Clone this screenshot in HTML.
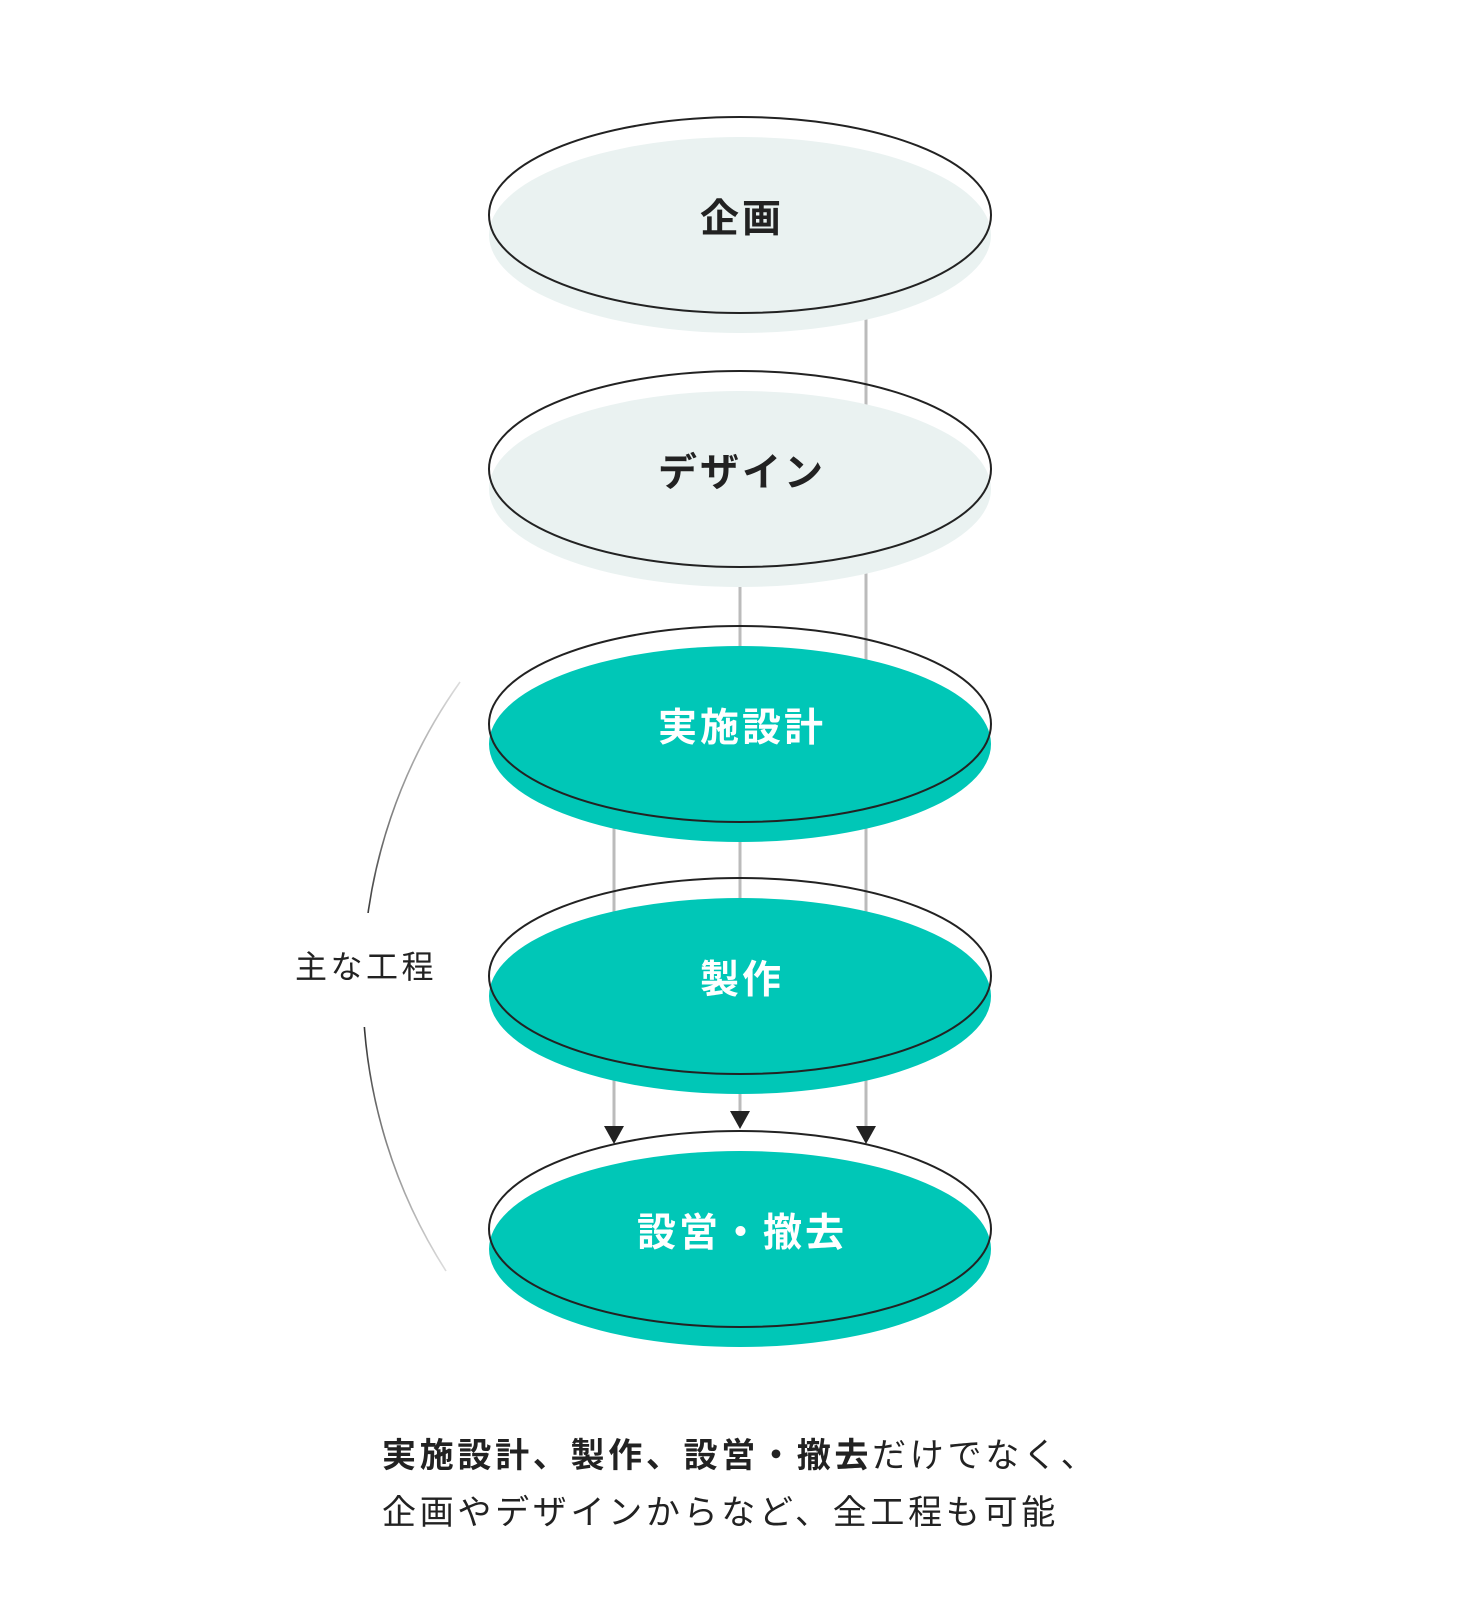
<!DOCTYPE html>
<html><head><meta charset="utf-8"><style>
html,body{margin:0;padding:0;background:#fff;}
svg{display:block}
text{font-family:"Liberation Sans","Noto Sans CJK JP",sans-serif;}
</style></head><body>
<svg width="1480" height="1620" viewBox="0 0 1480 1620" xmlns="http://www.w3.org/2000/svg">
<defs>
<linearGradient id="g" x1="0" y1="682" x2="0" y2="1271" gradientUnits="userSpaceOnUse">
<stop offset="0" stop-color="#ddd"/>
<stop offset="0.5" stop-color="#111"/>
<stop offset="1" stop-color="#ddd"/>
</linearGradient>
</defs>
<path d="M460,682 A527,527 0 0 0 446,1271" fill="none" stroke="url(#g)" stroke-width="1.6"/>
<rect x="340" y="913" width="60" height="114" fill="#fff"/>
<text x="295" y="978" font-size="32" fill="#222" letter-spacing="3.5">主な工程</text>

<g stroke="#bbb" stroke-width="3">
<line x1="866" y1="300" x2="866" y2="1128"/>
<line x1="740" y1="560" x2="740" y2="1112"/>
<line x1="614" y1="800" x2="614" y2="1128"/>
</g>

<g>
<ellipse cx="740" cy="235" rx="251" ry="98" fill="#eaf2f1"/>
<ellipse cx="740" cy="215" rx="251" ry="98" fill="none" stroke="#222" stroke-width="2"/>
<ellipse cx="740" cy="489" rx="251" ry="98" fill="#eaf2f1"/>
<ellipse cx="740" cy="469" rx="251" ry="98" fill="none" stroke="#222" stroke-width="2"/>
<ellipse cx="740" cy="744" rx="251" ry="98" fill="#00c7b7"/>
<ellipse cx="740" cy="724" rx="251" ry="98" fill="none" stroke="#222" stroke-width="2"/>
<ellipse cx="740" cy="996" rx="251" ry="98" fill="#00c7b7"/>
<ellipse cx="740" cy="976" rx="251" ry="98" fill="none" stroke="#222" stroke-width="2"/>
<ellipse cx="740" cy="1249" rx="251" ry="98" fill="#00c7b7"/>
<ellipse cx="740" cy="1229" rx="251" ry="98" fill="none" stroke="#222" stroke-width="2"/>
</g>

<g fill="#222">
<polygon points="604,1126 624,1126 614,1144"/>
<polygon points="730,1111 750,1111 740,1129"/>
<polygon points="856,1126 876,1126 866,1144"/>
</g>

<g font-size="39" font-weight="bold" text-anchor="middle" letter-spacing="3">
<text x="742" y="232" fill="#222">企画</text>
<text x="742" y="486" fill="#222">デザイン</text>
<text x="742" y="741" fill="#fff">実施設計</text>
<text x="742" y="993" fill="#fff">製作</text>
<text x="742" y="1246" fill="#fff">設営・撤去</text>
</g>

<text x="382" y="1467" font-size="34" fill="#222" letter-spacing="3.7"><tspan font-weight="bold">実施設計、製作、設営・撤去</tspan>だけでなく、</text>
<text x="382" y="1524" font-size="34" fill="#222" letter-spacing="3.7">企画やデザインからなど、全工程も可能</text>
</svg>
</body></html>
